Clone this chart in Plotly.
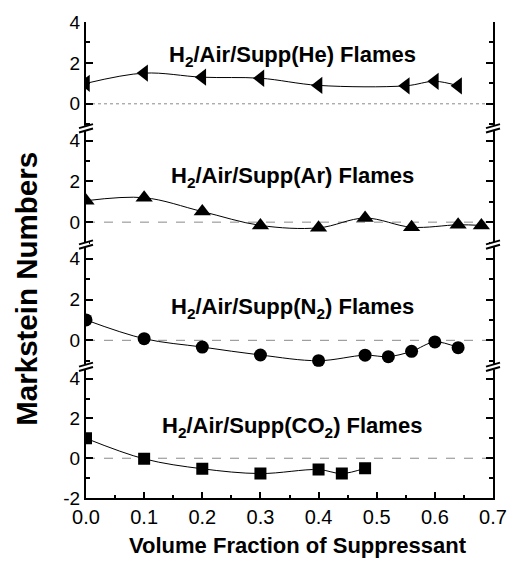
import plotly.graph_objects as go

# ---------------- data ----------------
he_x = [0.0, 0.1, 0.2, 0.3, 0.4, 0.55, 0.6, 0.64]
he_y = [1.0, 1.5, 1.3, 1.25, 0.9, 0.88, 1.1, 0.88]

ar_x = [0.0, 0.1, 0.2, 0.3, 0.4, 0.48, 0.56, 0.64, 0.68]
ar_y = [1.05, 1.2, 0.52, -0.16, -0.28, 0.2, -0.25, -0.13, -0.16]

n2_x = [0.0, 0.1, 0.2, 0.3, 0.4, 0.48, 0.52, 0.56, 0.6, 0.64]
n2_y = [1.0, 0.08, -0.33, -0.72, -1.0, -0.73, -0.8, -0.54, -0.08, -0.36]

co2_x = [0.0, 0.1, 0.2, 0.3, 0.4, 0.44, 0.48]
co2_y = [1.0, -0.03, -0.53, -0.77, -0.57, -0.77, -0.5]

x_ticks = [0.0, 0.1, 0.2, 0.3, 0.4, 0.5, 0.6, 0.7]
x_ticktext = ["0.0", "0.1", "0.2", "0.3", "0.4", "0.5", "0.6", "0.7"]

labels = ["H<sub>2</sub>/Air/Supp(He) Flames",
          "H<sub>2</sub>/Air/Supp(Ar) Flames",
          "H<sub>2</sub>/Air/Supp(N<sub>2</sub>) Flames",
          "H<sub>2</sub>/Air/Supp(CO<sub>2</sub>) Flames"]
label_x = 0.355
label_y = [2.35, 2.2, 1.6, 1.55]

# panel definitions (top to bottom) -> y axes y4, y3, y2, y (bottom)
panels = [
    dict(ax="y4", x=he_x, y=he_y, sym="triangle-left", size=15, rng=[-1.2, 4.0],
         dom=[0.7766, 1.0], tv=[0, 2, 4], tt=["0", "2", "4"], zdash="dot"),
    dict(ax="y3", x=ar_x, y=ar_y, sym="triangle-up", size=15, rng=[-1.1, 4.6],
         dom=[0.5324, 0.7766], tv=[0, 2, 4], tt=["0", "2", "4"], zdash="dash"),
    dict(ax="y2", x=n2_x, y=n2_y, sym="circle", size=13, rng=[-1.3, 4.7],
         dom=[0.2756, 0.5324], tv=[0, 2, 4], tt=["0", "2", "4"], zdash="dash"),
    dict(ax="y", x=co2_x, y=co2_y, sym="square", size=12, rng=[-2.0, 4.6],
         dom=[0.0, 0.2756], tv=[-2, 0, 2, 4], tt=["-2", "0", "2", "4"], zdash="dash"),
]

FONT = "Liberation Sans, Arial, sans-serif"

fig = go.Figure()
layout_axes = {}
shapes = []
annotations = []

for i, p in enumerate(panels):
    fig.add_trace(go.Scatter(
        x=p["x"], y=p["y"], xaxis="x", yaxis=p["ax"],
        mode="lines+markers", cliponaxis=True,
        line=dict(color="black", width=1, shape="spline", smoothing=1.0),
        marker=dict(symbol=p["sym"], size=p["size"], color="black"),
        showlegend=False, hoverinfo="skip"))
    key = "yaxis" if p["ax"] == "y" else "yaxis" + p["ax"][1:]
    layout_axes[key] = dict(
        domain=p["dom"], range=p["rng"], anchor="x",
        showline=True, linecolor="black", linewidth=2, mirror="ticks",
        ticks="inside", ticklen=7, tickwidth=2, tickcolor="black",
        tickvals=p["tv"], ticktext=p["tt"],
        minor=dict(tickvals=[-1, 1, 3], ticks="inside", ticklen=4,
                   tickwidth=2, tickcolor="black"),
        showgrid=False, zeroline=False,
        tickfont=dict(family=FONT, size=19, color="black"))
    # zero reference line
    shapes.append(dict(type="line", xref="paper", yref=p["ax"],
                       x0=0, x1=1, y0=0, y1=0,
                       line=dict(color="#8a8a8a", width=1, dash=p["zdash"]),
                       layer="below"))
    annotations.append(dict(x=label_x, y=label_y[i], xref="x", yref=p["ax"],
                            text="<b>" + labels[i] + "</b>", showarrow=False,
                            xanchor="center", yanchor="middle",
                            font=dict(family=FONT, size=22, color="black")))

# axis break marks at panel boundaries, both spines
for yb in [0.2756, 0.5324, 0.7766]:
    for xb in [0, 1]:
        shapes.append(dict(type="rect", xref="paper", yref="paper",
                           xsizemode="pixel", ysizemode="pixel",
                           xanchor=xb, yanchor=yb,
                           x0=-3, x1=3, y0=-2.5, y1=2.5,
                           fillcolor="white", line=dict(width=0)))
        for off in [-2.2, 2.2]:
            shapes.append(dict(type="line", xref="paper", yref="paper",
                               xsizemode="pixel", ysizemode="pixel",
                               xanchor=xb, yanchor=yb,
                               x0=-7, x1=7, y0=off - 2, y1=off + 2,
                               line=dict(color="black", width=2)))

annotations.append(dict(x=-0.147, y=0.44, xref="paper", yref="paper",
                        text="<b>Markstein Numbers</b>", textangle=-90,
                        showarrow=False, xanchor="center", yanchor="middle",
                        font=dict(family=FONT, size=29.5, color="black")))
annotations.append(dict(x=0.522, y=-0.1, xref="paper", yref="paper",
                        text="<b>Volume Fraction of Suppressant</b>",
                        showarrow=False, xanchor="center", yanchor="middle",
                        font=dict(family=FONT, size=22, color="black")))

fig.update_layout(
    width=519, height=563,
    margin=dict(l=86, r=15, t=19, b=65),
    paper_bgcolor="white", plot_bgcolor="white",
    xaxis=dict(range=[0, 0.7], anchor="y", domain=[0, 1],
               showline=True, linecolor="black", linewidth=2,
               ticks="inside", ticklen=6, tickwidth=2, tickcolor="black",
               tickvals=x_ticks, ticktext=x_ticktext,
               minor=dict(dtick=0.05, tick0=0, ticks="inside", ticklen=3,
                          tickwidth=2, tickcolor="black"),
               showgrid=False, zeroline=False,
               tickfont=dict(family=FONT, size=20, color="black")),
    xaxis2=dict(range=[0, 0.7], anchor="y4", overlaying="x", side="top",
                showline=True, linecolor="black", linewidth=2,
                ticks="inside", ticklen=6, tickwidth=2, tickcolor="black",
                tickvals=x_ticks, showticklabels=False,
                minor=dict(dtick=0.05, tick0=0, ticks="inside", ticklen=3,
                           tickwidth=2, tickcolor="black"),
                showgrid=False, zeroline=False),
    shapes=shapes, annotations=annotations,
    **layout_axes)

fig.write_html("out.html")
